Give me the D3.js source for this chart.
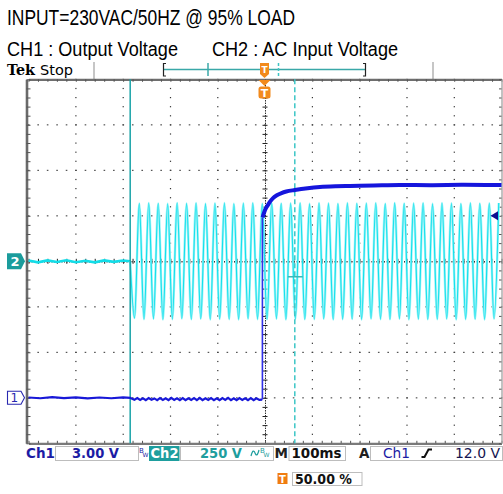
<!DOCTYPE html>
<html>
<head>
<meta charset="utf-8">
<script src="https://cdn.jsdelivr.net/npm/d3@7"></script>
<style>
  body { margin: 0; background: #fff; }
  svg { display: block; }
</style>
</head>
<body>
<svg id="scope" width="503" height="494"></svg>
<script>
// scope settings
const titleLine = "INPUT=230VAC/50HZ @ 95% LOAD";
const ch1Label = "CH1 : Output Voltage";
const ch2Label = "CH2 : AC Input Voltage";
const timePerDiv = 100;   // ms
const ch1VoltsPerDiv = 3; // V
const ch2VoltsPerDiv = 250; // V
const ch1Offset = -3;     // divisions
const ch2Offset = 0;
const trigLevel = 12;     // V
const cursorTimes = [-285, 63];

// CH2 (AC input) - flat before the switch on, then peaks/troughs every half cycle
const ch2PreTimes = [-500, -480, -460, -440, -420, -400, -380, -360, -340, -320, -300, -285];
const ch2PreVolts = [4, -6, 5, -4, 6, -5, 3, -6, 5, -3, 4, 0];
const ch2FirstExtreme = -275.8; // ms
const ch2HalfPeriod = 10;       // ms
const ch2Extremes = [
  -312, 318, -318, 320, -316, 318, -320, 316, -318, 321,
  -315, 318, -319, 320, -316, 317, -320, 319, -317, 320,
  -318, 316, -320, 319, -316, 320, -318, 317, -319, 321,
  -316, 318, -320, 319, -317, 320, -319, 316, -318, 320,
  -316, 319, -320, 317, -318, 320, -317, 318, -320, 319,
  -316, 320, -318, 317, -319, 321, -316, 318, -320, 319,
  -317, 320, -319, 316, -318, 320, -316, 319, -320, 317,
  -318, 320, -317, 318, -320, 319, -316, 320
];

// CH1 (output voltage)
const ch1PreTimes = [-500, -475, -450, -425, -400, -375, -350, -325, -300, -285];
const ch1PreVolts = [0.02, -0.03, 0.04, -0.02, 0.03, -0.04, 0.02, -0.03, 0.03, 0.0];
const ch1RippleTimes = [-282, -276, -270, -264, -258, -252, -246, -240, -234, -228,
  -222, -216, -210, -204, -198, -192, -186, -180, -174, -168, -162, -156, -150,
  -144, -138, -132, -126, -120, -114, -108, -102, -96, -90, -84, -78, -72, -66,
  -60, -54, -48, -42, -36, -30, -24, -18, -12, -6];
const ch1RippleVolts = [-0.04, -0.13, -0.02, -0.14, -0.03, -0.15, -0.02, -0.13, -0.04,
  -0.15, -0.02, -0.14, -0.03, -0.16, -0.01, -0.14, -0.03, -0.15, -0.02, -0.16, -0.03,
  -0.14, -0.02, -0.15, -0.01, -0.16, -0.03, -0.14, -0.02, -0.15, -0.03, -0.16, -0.02,
  -0.14, -0.01, -0.15, -0.03, -0.16, -0.02, -0.14, -0.03, -0.15, -0.02, -0.16, -0.03,
  -0.14, -0.12];
const ch1RiseTimes = [-5, -2, 2, 6, 11, 17, 25, 35, 45, 63, 90, 116, 150, 180, 230, 285, 350, 420, 500];
const ch1RiseVolts = [11.9, 12.2, 12.5, 12.7, 12.95, 13.17, 13.35, 13.5, 13.6, 13.7, 13.82,
  13.9, 13.95, 13.97, 14.0, 14.03, 14.02, 14.04, 14.03];

// status bar texts
const ch1Scale = "3.00 V";
const ch2Scale = "250 V";
const timeScale = "100ms";
const trigText = "12.0 V";
const trigPos = "50.00 %";

const svg = d3.select("#scope");

// graticule: 10 x 8 divisions
const x = d3.scaleLinear().domain([-5 * timePerDiv, 5 * timePerDiv]).range([28.5, 501.5]);
const yDiv = d3.scaleLinear().domain([-4, 4]).range([443.3, 79.3]);
const y1 = d3.scaleLinear().domain([0, ch1VoltsPerDiv]).range([yDiv(ch1Offset), yDiv(ch1Offset + 1)]);
const y2 = d3.scaleLinear().domain([0, ch2VoltsPerDiv]).range([yDiv(ch2Offset), yDiv(ch2Offset + 1)]);

const minorX = d3.range(-500, 500.1, 20);
const minorY = d3.range(-4, 4.01, 0.2);

// header
svg.append("text").attr("x", 7).attr("y", 25)
  .attr("font-family", "Liberation Sans, Arial").attr("font-size", 22)
  .attr("textLength", 288).attr("lengthAdjust", "spacingAndGlyphs")
  .text(titleLine);
svg.append("text").attr("x", 7).attr("y", 56)
  .attr("font-family", "Liberation Sans, Arial").attr("font-size", 20)
  .attr("textLength", 171).attr("lengthAdjust", "spacingAndGlyphs")
  .text(ch1Label);
svg.append("text").attr("x", 212).attr("y", 56)
  .attr("font-family", "Liberation Sans, Arial").attr("font-size", 20)
  .attr("textLength", 186).attr("lengthAdjust", "spacingAndGlyphs")
  .text(ch2Label);

// Tek Stop bar
svg.append("text").attr("x", 7).attr("y", 75)
  .attr("font-family", "DejaVu Serif").attr("font-weight", "bold").attr("font-size", 15)
  .attr("textLength", 28).attr("lengthAdjust", "spacingAndGlyphs").text("Tek");
svg.append("text").attr("x", 40).attr("y", 75)
  .attr("font-family", "DejaVu Sans").attr("font-size", 14)
  .attr("textLength", 33).attr("lengthAdjust", "spacingAndGlyphs").text("Stop");

const bar = svg.append("g");
[94, 433].forEach(bx => bar.append("line").attr("x1", bx).attr("x2", bx)
  .attr("y1", 62).attr("y2", 79).attr("stroke", "#a0a0a0").attr("stroke-width", 1.2));
bar.append("line").attr("x1", 163).attr("x2", 366).attr("y1", 69.5).attr("y2", 69.5)
  .attr("stroke", "#3aa8a8").attr("stroke-width", 1.5);
bar.append("path").attr("d", "M166,63.5H163.5V76H166").attr("fill", "none").attr("stroke", "#222").attr("stroke-width", 1.2);
bar.append("path").attr("d", "M363,63.5H365.5V76H363").attr("fill", "none").attr("stroke", "#222").attr("stroke-width", 1.2);
bar.append("line").attr("x1", 208).attr("x2", 208).attr("y1", 63).attr("y2", 76)
  .attr("stroke", "#3aa8a8").attr("stroke-width", 1.5);
bar.append("line").attr("x1", 278.5).attr("x2", 278.5).attr("y1", 63).attr("y2", 76)
  .attr("stroke", "#3ec4c4").attr("stroke-width", 1.5).attr("stroke-dasharray", "3,2");
bar.append("path").attr("d", "M260,63H269V74L264.5,78L260,74Z").attr("fill", "#f28a1c");
bar.append("text").attr("x", 264.5).attr("y", 73).attr("text-anchor", "middle")
  .attr("font-family", "DejaVu Sans").attr("font-weight", "bold").attr("font-size", 9)
  .attr("fill", "#fff").text("T");

// graticule
const grid = svg.append("g");
// dotted major lines
d3.range(1, 10).filter(i => i !== 5).forEach(i => {
  const gx = x(-500 + i * timePerDiv);
  grid.selectAll(null).data(minorY).enter().append("rect")
    .attr("x", gx - 0.5).attr("y", d => yDiv(d) - 0.5)
    .attr("width", 1.2).attr("height", 1.2).attr("fill", "#333");
});
d3.range(-3, 4).filter(j => j !== 0).forEach(j => {
  const gy = yDiv(j);
  grid.selectAll(null).data(minorX).enter().append("rect")
    .attr("x", d => x(d) - 0.6).attr("y", gy - 0.5)
    .attr("width", 1.6).attr("height", 1.1).attr("fill", "#444");
});

// centre cross with ticks
function styleAxis(g, dash) {
  g.selectAll("text").remove();
  g.select(".domain").attr("stroke", "#222").attr("stroke-width", 1).attr("stroke-dasharray", dash);
  g.selectAll(".tick line").attr("stroke", "#222").attr("stroke-width", 1);
}
grid.append("g").attr("transform", `translate(0,${yDiv(0)})`)
  .call(d3.axisBottom(x).tickValues(minorX).tickSize(2.5).tickSizeOuter(0))
  .call(g => styleAxis(g, "1,1.5"));
grid.append("g").attr("transform", `translate(0,${yDiv(0)})`)
  .call(d3.axisTop(x).tickValues(minorX).tickSize(2.5).tickSizeOuter(0))
  .call(g => styleAxis(g, "1,1.5"));
grid.append("g").attr("transform", `translate(${x(0)},0)`)
  .call(d3.axisLeft(yDiv).tickValues(minorY).tickSize(2.5).tickSizeOuter(0))
  .call(g => styleAxis(g, "1,1.5"));
grid.append("g").attr("transform", `translate(${x(0)},0)`)
  .call(d3.axisRight(yDiv).tickValues(minorY).tickSize(2.5).tickSizeOuter(0))
  .call(g => styleAxis(g, "1,1.5"));

// border with inward ticks
function styleBorder(g, w, col) {
  g.selectAll("text").remove();
  g.select(".domain").attr("stroke", col).attr("stroke-width", w);
  g.selectAll(".tick line").attr("stroke", "#555").attr("stroke-width", 1);
}
grid.append("g").attr("transform", `translate(0,${yDiv(4)})`)
  .call(d3.axisBottom(x).tickValues(minorX).tickSize(2.5).tickSizeOuter(0))
  .call(g => styleBorder(g, 2.2, "#6e6e6e"));
grid.append("g").attr("transform", `translate(0,${yDiv(-4)})`)
  .call(d3.axisTop(x).tickValues(minorX).tickSize(2.5).tickSizeOuter(0))
  .call(g => styleBorder(g, 2.2, "#7a7a7a"));
grid.append("g").attr("transform", `translate(${x(-500) - 2},0)`)
  .call(d3.axisRight(yDiv).tickValues(minorY).tickSize(4).tickSizeOuter(0))
  .call(g => styleBorder(g, 2.6, "#6a6a6a"));
grid.append("g").attr("transform", `translate(${x(500)},0)`)
  .call(d3.axisLeft(yDiv).tickValues(minorY).tickSize(2.5).tickSizeOuter(0))
  .call(g => styleBorder(g, 1.4, "#a8a8a8"));

// CH2 trace
const ch2Pre = ch2PreTimes.map((t, i) => [t, ch2PreVolts[i]]);
const ch2Ac = [[-285, 0]].concat(ch2Extremes.map((v, i) => [ch2FirstExtreme + i * ch2HalfPeriod, v]));
const line2 = d3.line().x(d => x(d[0])).y(d => y2(d[1]));
svg.append("path").attr("d", line2(ch2Pre)).attr("fill", "none")
  .attr("stroke", "#12dde8").attr("stroke-width", 2.6);
svg.append("path").attr("d", line2.curve(d3.curveMonotoneX)(ch2Ac)).attr("fill", "none")
  .attr("stroke", "#9ef4f7").attr("stroke-width", 2.4);
svg.append("path").attr("d", line2.curve(d3.curveMonotoneX)(ch2Ac)).attr("fill", "none")
  .attr("stroke", "#14e0ec").attr("stroke-width", 1.1);

// cursors
svg.append("line").attr("x1", x(cursorTimes[0])).attr("x2", x(cursorTimes[0]))
  .attr("y1", yDiv(4)).attr("y2", yDiv(-4)).attr("stroke", "#1aa3a8").attr("stroke-width", 1.5);
svg.append("line").attr("x1", x(cursorTimes[1])).attr("x2", x(cursorTimes[1]))
  .attr("y1", yDiv(4)).attr("y2", yDiv(-4)).attr("stroke", "#3cc6c6").attr("stroke-width", 1.5)
  .attr("stroke-dasharray", "5,3");
svg.append("line").attr("x1", x(cursorTimes[1]) - 7).attr("x2", x(cursorTimes[1]) + 8)
  .attr("y1", y2(-85)).attr("y2", y2(-85)).attr("stroke", "#3ab8b8").attr("stroke-width", 1.5);

// CH1 trace
const line1 = d3.line().x(d => x(d[0])).y(d => y1(d[1]));
const ch1Low = ch1PreTimes.map((t, i) => [t, ch1PreVolts[i]])
  .concat(ch1RippleTimes.map((t, i) => [t, ch1RippleVolts[i]]));
const ch1High = ch1RiseTimes.map((t, i) => [t, ch1RiseVolts[i]]);
svg.append("path").attr("d", line1(ch1Low)).attr("fill", "none")
  .attr("stroke", "#1818d8").attr("stroke-width", 2.2);
svg.append("line").attr("x1", x(-5.5)).attr("x2", x(-5.5))
  .attr("y1", y1(ch1RippleVolts[ch1RippleVolts.length - 1])).attr("y2", y1(ch1RiseVolts[0]))
  .attr("stroke", "#3030e8").attr("stroke-width", 1.6);
svg.append("path").attr("d", line1.curve(d3.curveMonotoneX)(ch1High)).attr("fill", "none")
  .attr("stroke", "#1515dc").attr("stroke-width", 4);

// trigger marker on screen
svg.append("path").attr("d", "M258.5,80H270.5L264.5,86Z").attr("fill", "#f28a1c");
svg.append("rect").attr("x", 258.5).attr("y", 86.5).attr("width", 12).attr("height", 12)
  .attr("rx", 2.5).attr("fill", "#f28a1c");
svg.append("text").attr("x", 264.5).attr("y", 97).attr("text-anchor", "middle")
  .attr("font-family", "DejaVu Sans").attr("font-weight", "bold").attr("font-size", 11)
  .attr("fill", "#fff").text("T");

// trigger level marker (right side)
svg.append("path").attr("d", `M490.5,${y1(trigLevel)}L498,${y1(trigLevel) - 4.5}V${y1(trigLevel) + 4.5}Z`)
  .attr("fill", "#101090");

// channel ground markers
svg.append("path").attr("d", `M7,${y2(0) - 8}H21L25,${y2(0)}L21,${y2(0) + 8}H7Z`).attr("fill", "#1b9c9c");
svg.append("text").attr("x", 10.5).attr("y", y2(0) + 5).attr("font-family", "DejaVu Sans")
  .attr("font-weight", "bold").attr("font-size", 13).attr("fill", "#fff").text("2");
svg.append("path").attr("d", `M7.5,${y1(0) - 6.5}H21L24.5,${y1(0)}L21,${y1(0) + 6.5}H7.5Z`)
  .attr("fill", "#fff").attr("stroke", "#2828b0").attr("stroke-width", 1.1);
svg.append("text").attr("x", 10.5).attr("y", y1(0) + 4.5).attr("font-family", "DejaVu Sans")
  .attr("font-size", 12).attr("fill", "#2828b0").text("1");

// status bar
const sb = svg.append("g").attr("font-family", "DejaVu Sans").attr("font-weight", "bold").attr("font-size", 13.5);
const boxes = [[55, 138], [180, 273], [288.5, 345], [370, 502]];
boxes.forEach(b => sb.append("rect").attr("x", b[0] + 0.5).attr("y", 446.5)
  .attr("width", b[1] - b[0]).attr("height", 14).attr("fill", "#fff")
  .attr("stroke", "#bdbdbd").attr("stroke-width", 1));
sb.append("text").attr("x", 26).attr("y", 458).attr("fill", "#1c1ca4").text("Ch1");
sb.append("text").attr("x", 72).attr("y", 458).attr("fill", "#1c1ca4")
  .attr("textLength", 47).attr("lengthAdjust", "spacingAndGlyphs").text(ch1Scale);
sb.append("text").attr("x", 139).attr("y", 453).attr("font-size", 7).attr("font-weight", "normal").attr("fill", "#1c1ca4").text("B");
sb.append("text").attr("x", 142.5).attr("y", 457).attr("font-size", 6).attr("font-weight", "normal").attr("fill", "#1c1ca4").text("W");
sb.append("rect").attr("x", 149).attr("y", 446).attr("width", 30.5).attr("height", 15).attr("fill", "#1e9e9e");
sb.append("text").attr("x", 150.5).attr("y", 458).attr("fill", "#fff")
  .attr("textLength", 28).attr("lengthAdjust", "spacingAndGlyphs").text("Ch2");
sb.append("text").attr("x", 200).attr("y", 458).attr("fill", "#1e9e9e")
  .attr("textLength", 42).attr("lengthAdjust", "spacingAndGlyphs").text(ch2Scale);
sb.append("path").attr("d", "M251,456c1.5,-6 3,-6 4,-3s2.5,3 4,-3").attr("fill", "none")
  .attr("stroke", "#1e9e9e").attr("stroke-width", 1.2);
sb.append("text").attr("x", 260).attr("y", 453).attr("font-size", 7).attr("font-weight", "normal").attr("fill", "#1e9e9e").text("B");
sb.append("text").attr("x", 263.5).attr("y", 457).attr("font-size", 6).attr("font-weight", "normal").attr("fill", "#1e9e9e").text("W");
sb.append("text").attr("x", 274.5).attr("y", 458).attr("fill", "#202020").text("M");
sb.append("text").attr("x", 291.5).attr("y", 458).attr("fill", "#111")
  .attr("textLength", 50).attr("lengthAdjust", "spacingAndGlyphs").text(timeScale);
sb.append("text").attr("x", 359).attr("y", 458).attr("fill", "#202020").text("A");
sb.append("text").attr("x", 383).attr("y", 458).attr("fill", "#1c1ca4")
  .attr("font-weight", "normal").attr("textLength", 27).attr("lengthAdjust", "spacingAndGlyphs").text("Ch1");
sb.append("path").attr("d", "M421.5,457H424.5L428.5,449.5H432").attr("fill", "none")
  .attr("stroke", "#111").attr("stroke-width", 2);
sb.append("text").attr("x", 500).attr("y", 458).attr("text-anchor", "end").attr("fill", "#141450")
  .attr("font-weight", "normal").attr("textLength", 45).attr("lengthAdjust", "spacingAndGlyphs").text(trigText);

// trigger position readout
svg.append("rect").attr("x", 277.5).attr("y", 473).attr("width", 10).attr("height", 11).attr("fill", "#f07c10");
svg.append("text").attr("x", 282.5).attr("y", 482.5).attr("text-anchor", "middle")
  .attr("font-family", "DejaVu Sans").attr("font-weight", "bold").attr("font-size", 10)
  .attr("fill", "#fff").text("T");
svg.append("rect").attr("x", 292.5).attr("y", 472.5).attr("width", 69.5).attr("height", 13)
  .attr("fill", "#fff").attr("stroke", "#bdbdbd");
svg.append("text").attr("x", 295).attr("y", 484).attr("font-family", "DejaVu Sans")
  .attr("font-weight", "bold").attr("font-size", 13.5).attr("fill", "#111")
  .attr("textLength", 57).attr("lengthAdjust", "spacingAndGlyphs").text(trigPos);
</script>
</body>
</html>
